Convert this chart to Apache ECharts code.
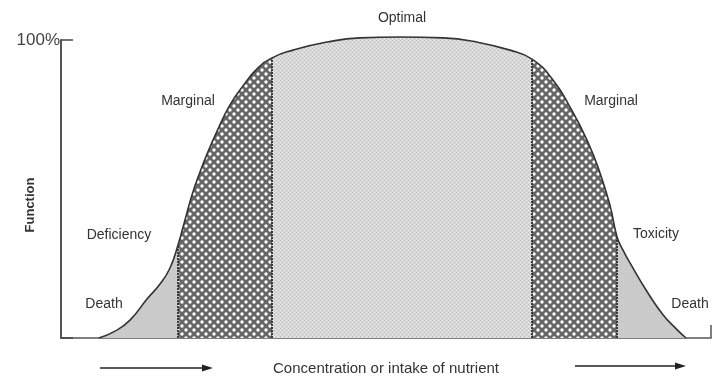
<!DOCTYPE html>
<html><head><meta charset="utf-8">
<script src="https://cdn.jsdelivr.net/npm/echarts@6/dist/echarts.min.js"></script>
<style>html,body{margin:0;padding:0;background:#fff}#c{width:713px;height:379px}</style>
</head><body><div id="c"></div>
<script>
// Curve: x = concentration (arbitrary units), y = function (% of max)
const curveX = [38,54,69,86,99,109,117,124,131,139,146,157,169,182,196,211,232,266,299,339,382,416,449,471,492,509,526,539,549,556,562,569,586,602,616,625];
const curveY = [0,2.3,6.0,13.1,18.1,23.5,31.2,39.6,48.0,55.7,61.7,70.1,78.2,84.6,90.3,94.0,96.6,99.3,100.7,101.0,100.7,99.3,96.6,93.6,86.6,77.5,66.4,55.4,44.5,34.0,29.5,25.2,15.6,7.8,2.8,0];
const zoneEdges = [38,117,211,471,556,625];
const zoneNames = ['Death','Marginal','Optimal','Marginal','Death'];
const yTicks = [0,100];

function makePattern(kind){
  const cv = document.createElement('canvas');
  const ctx = cv.getContext('2d');
  if(kind==='Marginal'){
    cv.width=8;cv.height=8;
    ctx.fillStyle='#666666';ctx.fillRect(0,0,8,8);
    ctx.fillStyle='#ffffff';
    ctx.beginPath();ctx.arc(2,2,1.7,0,Math.PI*2);ctx.fill();
    ctx.beginPath();ctx.arc(6,6,1.7,0,Math.PI*2);ctx.fill();
  } else if(kind==='Optimal'){
    cv.width=4;cv.height=4;
    ctx.fillStyle='#d8d8d8';ctx.fillRect(0,0,4,4);
    ctx.fillStyle='#bcbcbc';ctx.fillRect(0,0,1,1);ctx.fillRect(2,2,1,1);
    ctx.fillStyle='#ececec';ctx.fillRect(2,0,1,1);ctx.fillRect(0,2,1,1);
  } else {
    cv.width=4;cv.height=4;
    ctx.fillStyle='#cbcbcb';ctx.fillRect(0,0,4,4);
    ctx.fillStyle='#c0c0c0';ctx.fillRect(1,1,1,1);
  }
  return {image: cv, repeat: 'repeat'};
}

const pts = curveX.map((x,i)=>[x,curveY[i]]);
const series = [];
zoneNames.forEach((name,i)=>{
  const a = zoneEdges[i], b = zoneEdges[i+1];
  series.push({
    type:'line', name:name, data: pts.filter(p=>p[0]>=a && p[0]<=b),
    smooth:0.5, symbol:'none', clip:false, silent:true,
    lineStyle:{width:0}, areaStyle:{color: makePattern(name), opacity:1}, z:2
  });
});
zoneEdges.slice(1,-1).forEach(e=>{
  const idx = curveX.indexOf(e);
  series.push({
    type:'line', data:[[e,0],[e,curveY[idx]]], symbol:'none', clip:false, silent:true,
    lineStyle:{color:'#3a3a3a', width:2, type:[2,1]}, z:3
  });
});
series.push({
  type:'line', data: pts, smooth:0.5, symbol:'none', clip:false, silent:true,
  lineStyle:{color:'#333', width:1.6}, z:4
});

const font = "'Liberation Sans', Arial, sans-serif";
const txt = (t,x,y,size)=>({type:'text', x:x, y:y, style:{text:t, fill:'#333', font:(size||14)+'px '+font, textAlign:'center', textVerticalAlign:'middle'}, z:10});
function arrow(x1,x2,y){
  return {type:'group', children:[
    {type:'line', shape:{x1:x1,y1:y,x2:x2-8,y2:y}, style:{stroke:'#222', lineWidth:1.5}},
    {type:'polygon', shape:{points:[[x2,y],[x2-11,y-3.5],[x2-11,y+3.5]]}, style:{fill:'#222'}}
  ]};
}

const chart = echarts.init(document.getElementById('c'), null, {renderer:'canvas'});
chart.setOption({
  animation:false,
  backgroundColor:'#fff',
  grid:{left:61, right:2, top:40, bottom:41, containLabel:false, outerBoundsMode:'none'},
  xAxis:{type:'value', min:0, max:650, interval:650,
    name:'Concentration or intake of nutrient', nameLocation:'middle', nameGap:23,
    nameTextStyle:{color:'#333', fontSize:15, fontFamily:font},
    axisLine:{show:true, lineStyle:{color:'#555', width:1.5}},
    axisTick:{show:true, inside:true, length:13, lineStyle:{color:'#555', width:1.5}},
    axisLabel:{show:false}, splitLine:{show:false}},
  yAxis:{type:'value', min:yTicks[0], max:yTicks[1], interval:100,
    axisLine:{show:true, lineStyle:{color:'#555', width:2}},
    axisTick:{show:true, inside:true, length:12, lineStyle:{color:'#444', width:1.5}},
    axisLabel:{formatter:v=>v===100?'100%':'', color:'#444', fontSize:17, fontFamily:font, margin:1},
    splitLine:{show:false}},
  series: series,
  graphic:[
    {type:'text', x:30, y:205, rotation:Math.PI/2, style:{text:'Function', fill:'#333', font:'bold 13px '+font, textAlign:'center', textVerticalAlign:'middle'}, z:10},
    txt('Optimal',402,18),
    txt('Marginal',188,101),
    txt('Marginal',611,101),
    txt('Deficiency',119,235),
    txt('Death',104,304),
    txt('Toxicity',656,234),
    txt('Death',690,304),
    arrow(100,213,368),
    arrow(575,686,366)
  ]
});
</script></body></html>
